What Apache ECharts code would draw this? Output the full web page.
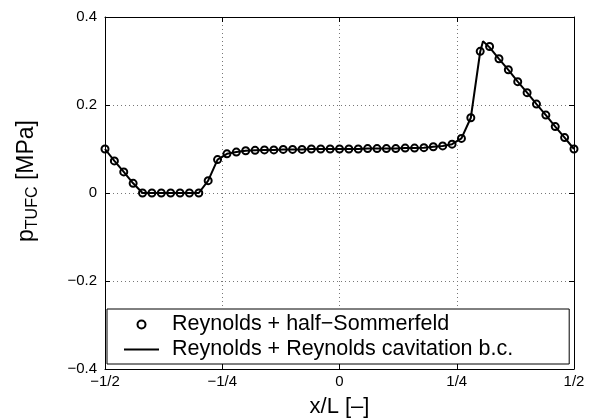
<!DOCTYPE html>
<html>
<head>
<meta charset="utf-8">
<script src="https://cdn.jsdelivr.net/npm/echarts@6/dist/echarts.min.js"></script>
<style>
  html, body { margin: 0; padding: 0; background: #fff; }
  #chart { width: 591px; height: 420px; }
</style>
</head>
<body>
<div id="chart"></div>
<script>
// Pressure distribution along the film, two cavitation treatments
const xPos = [
  -0.50, -0.48, -0.46, -0.44, -0.42, -0.40, -0.38, -0.36, -0.34, -0.32,
  -0.30, -0.28, -0.26, -0.24, -0.22, -0.20, -0.18, -0.16, -0.14, -0.12,
  -0.10, -0.08, -0.06, -0.04, -0.02, 0.00, 0.02, 0.04, 0.06, 0.08,
  0.10, 0.12, 0.14, 0.16, 0.18, 0.20, 0.22, 0.24, 0.26, 0.28,
  0.30, 0.32, 0.34, 0.36, 0.38, 0.40, 0.42, 0.44, 0.46, 0.48, 0.50
];
// Reynolds + half-Sommerfeld (markers), MPa
const pHalfSommerfeld = [
  0.100, 0.073, 0.048, 0.022, 0.000, 0.000, 0.000, 0.000, 0.000, 0.000,
  0.000, 0.028, 0.076, 0.089, 0.093, 0.096, 0.097, 0.098, 0.098, 0.099,
  0.099, 0.099, 0.100, 0.100, 0.100, 0.100, 0.100, 0.100, 0.101, 0.101,
  0.101, 0.101, 0.102, 0.102, 0.103, 0.105, 0.107, 0.111, 0.124, 0.171,
  0.322, 0.333, 0.305, 0.280, 0.253, 0.228, 0.202, 0.177, 0.151, 0.126, 0.100
];
// Reynolds + Reynolds cavitation b.c. (solid line), MPa
const xLine = [
  -0.50, -0.48, -0.46, -0.44, -0.42, -0.40, -0.38, -0.36, -0.34, -0.32,
  -0.30, -0.28, -0.26, -0.24, -0.22, -0.20, -0.18, -0.16, -0.14, -0.12,
  -0.10, -0.08, -0.06, -0.04, -0.02, 0.00, 0.02, 0.04, 0.06, 0.08,
  0.10, 0.12, 0.14, 0.16, 0.18, 0.20, 0.22, 0.24, 0.26, 0.28,
  0.30, 0.306, 0.32, 0.34, 0.36, 0.38, 0.40, 0.42, 0.44, 0.46, 0.48, 0.50
];
const pReynoldsCav = [
  0.100, 0.073, 0.048, 0.022, 0.000, 0.000, 0.000, 0.000, 0.000, 0.000,
  0.000, 0.028, 0.076, 0.089, 0.093, 0.096, 0.097, 0.098, 0.098, 0.099,
  0.099, 0.099, 0.100, 0.100, 0.100, 0.100, 0.100, 0.100, 0.101, 0.101,
  0.101, 0.101, 0.102, 0.102, 0.103, 0.105, 0.107, 0.111, 0.124, 0.171,
  0.321, 0.345, 0.331, 0.305, 0.280, 0.253, 0.228, 0.202, 0.177, 0.151, 0.126, 0.100
];
const xTickText = { '-0.5': '\u22121/2', '-0.25': '\u22121/4', '0': '0', '0.25': '1/4', '0.5': '1/2' };
const yTickText = { '0.4': '0.4', '0.2': '0.2', '0': '0', '-0.2': '\u22120.2', '-0.4': '\u22120.4' };
const seriesNames = ['Reynolds + half\u2212Sommerfeld', 'Reynolds + Reynolds cavitation b.c.'];

const FONT = 'Liberation Sans, Arial, sans-serif';
const gridLine = { show: true, lineStyle: { color: '#777', type: [1, 3], width: 1 } };
const boxLine = { show: true, onZero: false, lineStyle: { color: '#000', width: 1 } };
const inTicks = { show: true, inside: true, length: 5, lineStyle: { color: '#000' } };

const chart = echarts.init(document.getElementById('chart'));
chart.setOption({
  animation: false,
  backgroundColor: '#fff',
  grid: { left: 105, right: 17, top: 17, bottom: 51, containLabel: false, outerBoundsMode: 'none' },
  xAxis: [
    {
      type: 'value', min: -0.5, max: 0.5, interval: 0.25,
      axisLine: boxLine, axisTick: inTicks, splitLine: gridLine,
      axisLabel: { color: '#000', fontSize: 15, fontFamily: FONT, margin: 5,
        formatter: v => xTickText[String(v)] },
      name: 'x/L [\u2013]', nameLocation: 'middle', nameGap: 27,
      nameTextStyle: { color: '#000', fontSize: 22, fontFamily: FONT }
    },
    {
      type: 'value', position: 'top', min: -0.5, max: 0.5, interval: 0.25,
      axisLine: boxLine, axisTick: inTicks, splitLine: { show: false },
      axisLabel: { show: false }
    }
  ],
  yAxis: [
    {
      type: 'value', min: -0.4, max: 0.4, interval: 0.2,
      axisLine: boxLine, axisTick: inTicks, splitLine: gridLine,
      axisLabel: { color: '#000', fontSize: 15, fontFamily: FONT, margin: 8,
        formatter: v => yTickText[String(Math.round(v * 10) / 10)] },
      name: '{p|p}{sub|TUFC}{p| [MPa]}', nameLocation: 'middle', nameGap: 64, nameRotate: 90,
      nameTextStyle: {
        color: '#000', fontFamily: FONT, padding: [0, 0, 0, 24],
        rich: {
          p: { fontSize: 23, fontFamily: FONT, color: '#000' },
          sub: { fontSize: 16, fontFamily: FONT, color: '#000', padding: [12, 0, 0, 0] }
        }
      }
    },
    {
      type: 'value', position: 'right', min: -0.4, max: 0.4, interval: 0.2,
      axisLine: boxLine, axisTick: inTicks, splitLine: { show: false },
      axisLabel: { show: false }
    }
  ],
  legend: {
    orient: 'vertical', left: 107, top: 309,
    data: [
      { name: seriesNames[0] },
      { name: seriesNames[1], itemStyle: { color: 'rgba(0,0,0,0)', opacity: 0 } }
    ],
    backgroundColor: '#fff', borderColor: '#000', borderWidth: 1, borderRadius: 0,
    padding: [3, 56, 2, 16], itemGap: 0, itemWidth: 35, itemHeight: 8,
    textStyle: { color: '#000', fontSize: 21.5, fontFamily: FONT, lineHeight: 25, padding: [0, 0, 0, 8] }
  },
  series: [
    {
      name: seriesNames[1], type: 'line', symbol: 'none', z: 2,
      data: xLine.map((x, i) => [x, pReynoldsCav[i]]),
      lineStyle: { color: '#000', width: 2 }, itemStyle: { color: '#000' }
    },
    {
      name: seriesNames[0], type: 'scatter', symbol: 'circle', symbolSize: 7, z: 3,
      data: xPos.map((x, i) => [x, pHalfSommerfeld[i]]),
      itemStyle: { color: 'rgba(0,0,0,0)', borderColor: '#000', borderWidth: 2, opacity: 1 }
    }
  ]
});
</script>
</body>
</html>
